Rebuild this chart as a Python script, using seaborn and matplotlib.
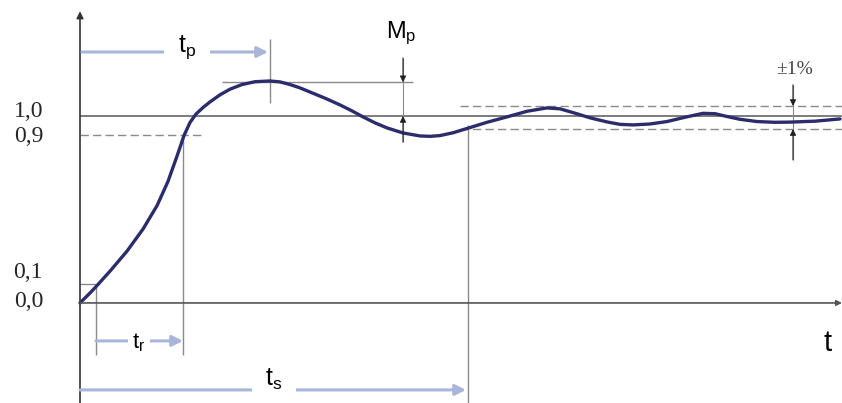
import numpy as np
import pandas as pd
import matplotlib
matplotlib.use("Agg")
import matplotlib.pyplot as plt
import seaborn as sns

# step response (time, output)
t_resp = [0.00, 0.10, 0.17, 0.30, 0.47, 0.63, 0.77, 0.88, 0.97, 1.04, 1.10, 1.16,
          1.23, 1.30, 1.40, 1.50, 1.62, 1.75, 1.90, 2.00, 2.10, 2.20,
          2.30, 2.45, 2.60, 2.72, 2.83, 2.95, 3.07, 3.23, 3.40, 3.50, 3.60, 3.73, 3.87,
          4.07, 4.27, 4.47, 4.67, 4.80, 4.93, 5.10, 5.27, 5.40, 5.53, 5.70, 5.87, 6.05,
          6.23, 6.35, 6.47, 6.60, 6.77, 6.95, 7.10, 7.35, 7.60]
y_resp = [0.000, 0.053, 0.093, 0.170, 0.277, 0.395, 0.520, 0.650, 0.785, 0.895, 0.965, 1.010,
          1.045, 1.075, 1.113, 1.143, 1.168, 1.183, 1.187, 1.182,
          1.168, 1.150, 1.128, 1.095, 1.059, 1.027, 0.995, 0.963, 0.936, 0.909, 0.893, 0.891,
          0.895, 0.910, 0.933, 0.966, 0.995, 1.025, 1.043, 1.038, 1.018, 0.990, 0.968, 0.955,
          0.952, 0.957, 0.970, 0.993, 1.014, 1.012, 0.997, 0.982, 0.970, 0.966, 0.967, 0.972,
          0.984]

# reference levels
y_final = 1.0
y_hi, y_lo = 0.9, 0.1
y_peak = 1.18
band_hi, band_lo = 1.053, 0.930

# characteristic times
t_r0, t_r1 = 0.16, 1.03
t_p = 1.90
t_s = 3.88
t_mp = 3.23
t_band = 7.13

ytick_vals = [0.0, 0.1, 0.9, 1.0]
ytick_text = ["0,0", "0,1", "0,9", "1,0"]

sns.set_style("white")
plt.rcParams["mathtext.fontset"] = "custom"
plt.rcParams["mathtext.rm"] = "Liberation Sans"
plt.rcParams["mathtext.it"] = "Liberation Sans"

fig = plt.figure(figsize=(8.42, 4.03), dpi=100)
ax = fig.add_axes([0, 0, 1, 1])
ax.set_xlim(-0.8, 7.62)
ax.set_ylim(-0.535, 1.62)
ax.axis("off")

grey = "#8a8a8a"
blue = "#a9b5d9"
navy = "#2b2c6c"

# axes with arrows
ax.annotate("", xy=(0, 1.56), xytext=(0, -0.535),
            arrowprops=dict(arrowstyle="-|>", color="#333333", lw=1.2,
                            mutation_scale=10, shrinkA=0, shrinkB=0))
ax.annotate("", xy=(7.62, 0), xytext=(0, 0),
            arrowprops=dict(arrowstyle="-|>", color="#555555", lw=1.2,
                            mutation_scale=8, shrinkA=0, shrinkB=0))

# level lines
ax.hlines(y_final, 0, 7.62, color="#666666", lw=1.2)
ax.hlines(y_hi, 0, 1.25, color=grey, lw=1.0, ls=(0, (6, 3)))
ax.hlines(y_lo, 0, t_r0, color=grey, lw=1.0)
ax.hlines(y_peak, 1.42, 3.33, color=grey, lw=1.0)
ax.hlines([band_hi, band_lo], 3.80, 7.62, color=grey, lw=1.0, ls=(0, (6, 3)))

# vertical markers
ax.vlines(t_r0, -0.28, y_lo, color=grey, lw=1.0)
ax.vlines(t_r1, -0.28, y_hi, color=grey, lw=1.0)
ax.vlines(t_p, 1.07, 1.41, color=grey, lw=1.0)
ax.vlines(t_s, -0.535, 0.95, color=grey, lw=1.0)
ax.vlines(t_mp, 0.86, 1.31, color=grey, lw=0.8)
ax.vlines(t_band, 0.765, 1.166, color=grey, lw=0.8)

# small black arrowheads for Mp and band
for tip, tail, xx in [(y_peak, 1.31, t_mp), (y_final, 0.86, t_mp),
                      (band_hi, 1.166, t_band), (band_lo, 0.765, t_band)]:
    ax.annotate("", xy=(xx, tip), xytext=(xx, tail),
                arrowprops=dict(arrowstyle="-|>", color="#222222", lw=0.8,
                                mutation_scale=9, shrinkA=0, shrinkB=0))

# response curve
df = pd.DataFrame({"t": t_resp, "y": y_resp})
sns.lineplot(data=df, x="t", y="y", sort=False, color=navy, lw=2.4, ax=ax)

# time-span arrows
for y0, x0, x1 in [(1.342, 0.02, t_p - 0.02), (-0.203, t_r0, t_r1), (-0.465, 0.0, t_s - 0.02)]:
    ax.annotate("", xy=(x1, y0), xytext=(x0, y0),
                arrowprops=dict(arrowstyle="-|>", color=blue, lw=2.2,
                                mutation_scale=16, shrinkA=0, shrinkB=0))

lab = dict(family="Liberation Sans", color="black", ha="center", va="center")
box = dict(facecolor="white", edgecolor="none", boxstyle="square,pad=0.55")
ax.text(1.07, 1.37, r"t$_\mathrm{p}$", fontsize=18, bbox=box, **lab)
ax.text(0.59, -0.215, r"t$_\mathrm{r}$", fontsize=16,
        bbox=dict(facecolor="white", edgecolor="none", boxstyle="square,pad=0.2"), **lab)
ax.text(1.94, -0.41, r"t$_\mathrm{s}$", fontsize=18, bbox=box, **lab)
ax.text(3.21, 1.44, r"M$_\mathrm{p}$", fontsize=17, **lab)
ax.text(7.48, -0.215, "t", fontsize=21, **lab)
ax.text(7.15, 1.25, "±1%", fontsize=14, family="Liberation Serif", color="#444444",
        ha="center", va="center")

nudge = {0.1: 0.065, 0.0: 0.01, 1.0: 0.025, 0.9: -0.01}
for v, s in zip(ytick_vals, ytick_text):
    ax.text(-0.37, v + nudge.get(v, 0.0), s, fontsize=17, family="Liberation Serif",
            ha="right", va="center")

fig.savefig("out.png", dpi=100)
